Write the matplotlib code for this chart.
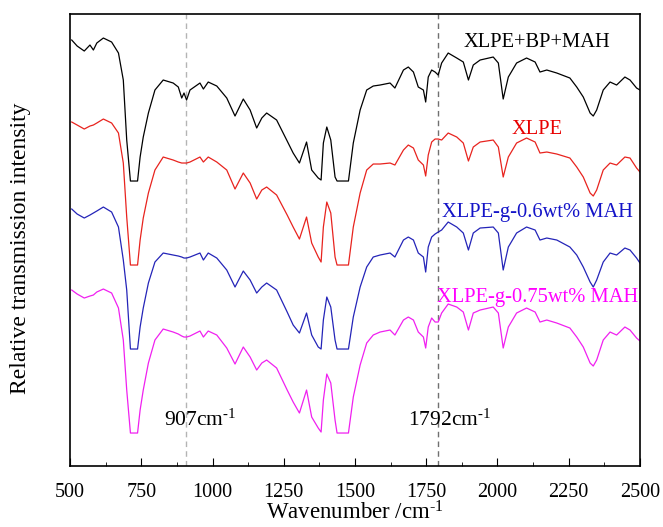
import matplotlib
matplotlib.use("Agg")
import matplotlib.pyplot as plt
import numpy as np

plt.rcParams['font.family'] = ['Liberation Serif', 'DejaVu Serif']
plt.rcParams['mathtext.fontset'] = 'custom'
plt.rcParams['mathtext.rm'] = 'Liberation Serif'
plt.rcParams['mathtext.default'] = 'rm'

# wavenumber grid (cm^-1)
wavenumber = [506, 525, 550, 570, 582, 594, 617, 646, 670, 687, 699, 712, 737, 746, 757,
              775, 798, 827, 862, 880, 892, 900, 909, 921, 956, 968, 985, 1015, 1050, 1079,
              1108, 1132, 1155, 1173, 1190, 1225, 1262, 1283, 1305, 1330, 1348, 1371, 1381,
              1389, 1401, 1415, 1430, 1437, 1477, 1494, 1518, 1541, 1564, 1588, 1623, 1640,
              1670, 1687, 1705, 1722, 1740, 1748, 1757, 1769, 1781, 1792, 1804, 1827, 1857,
              1880, 1898, 1915, 1939, 1985, 2003, 2020, 2038, 2067, 2102, 2132, 2149, 2173,
              2208, 2254, 2278, 2301, 2325, 2336, 2348, 2371, 2395, 2418, 2447, 2465, 2488, 2500]

# curve positions (offset units, larger = lower on the plot)
xlpe_bp_mah = [40, 46, 51, 45, 50, 43, 38, 42, 53, 80, 140, 181, 181, 157, 137,
               113, 90, 80, 83, 87, 98, 93, 100, 90, 83, 89, 82, 86, 98, 116,
               99, 110, 128, 118, 113, 120, 141, 153, 163, 142, 170, 178, 180,
               143, 127, 140, 177, 181, 181, 143, 110, 90, 86, 85, 83, 88,
               70, 67, 72, 87, 90, 102, 77, 70, 72, 75, 63, 53, 58,
               62, 80, 65, 60, 57, 63, 99, 77, 63, 58, 62, 72, 70,
               73, 78, 87, 97, 113, 116, 110, 90, 82, 85, 77, 80, 88, 90]
xlpe = [122, 125, 129, 126, 125, 123, 119, 123, 133, 163, 217, 265, 265, 240, 218,
        193, 170, 157, 160, 162, 163, 163, 163, 162, 157, 162, 157, 162, 170, 189,
        173, 183, 199, 190, 187, 195, 215, 227, 239, 217, 243, 257, 262,
        227, 202, 213, 257, 265, 265, 227, 193, 170, 164, 164, 163, 165,
        150, 145, 148, 160, 165, 176, 155, 142, 139, 139, 140, 133, 137,
        143, 161, 147, 142, 140, 147, 177, 157, 143, 138, 142, 153, 152,
        154, 158, 167, 177, 193, 196, 190, 170, 163, 165, 157, 158, 168, 172]
xlpe_g_06 = [209, 214, 218, 215, 213, 211, 207, 212, 227, 260, 290, 349, 349, 327, 308,
             283, 262, 253, 255, 256, 257, 258, 258, 257, 253, 260, 253, 258, 270, 287,
             271, 280, 293, 287, 283, 290, 312, 325, 333, 313, 335, 347, 349,
             320, 297, 307, 340, 349, 349, 317, 287, 267, 257, 255, 253, 257,
             240, 237, 240, 253, 257, 272, 247, 237, 234, 232, 230, 222, 227,
             233, 250, 233, 228, 227, 233, 270, 247, 233, 227, 230, 240, 238,
             240, 247, 255, 267, 282, 287, 280, 262, 253, 255, 248, 250, 258, 263]
xlpe_g_075 = [290, 294, 298, 296, 295, 292, 289, 293, 308, 340, 390, 433, 433, 410, 390,
              363, 340, 329, 332, 334, 336, 337, 337, 336, 331, 337, 331, 335, 348, 364,
              347, 357, 370, 363, 360, 368, 390, 402, 413, 390, 417, 428, 432,
              400, 374, 383, 420, 433, 433, 397, 365, 343, 335, 332, 330, 335,
              320, 317, 320, 332, 337, 348, 327, 318, 322, 322, 313, 304, 307,
              312, 330, 313, 310, 307, 313, 348, 327, 313, 308, 312, 322, 320,
              323, 328, 337, 347, 363, 366, 360, 340, 332, 335, 327, 330, 338, 341]

series = [xlpe_bp_mah, xlpe, xlpe_g_06, xlpe_g_075]
names = ['XLPE+BP+MAH', 'XLPE', 'XLPE-g-0.6wt% MAH', 'XLPE-g-0.75wt% MAH']
colors = ['#000000', '#e8231e', '#2424b8', '#f020f0']
text_colors = ['#000000', '#e80000', '#1414c8', '#ff00ff']
label_y = [42, 129, 212, 297]

fig = plt.figure(figsize=(6.63, 5.27), dpi=100)
ax = fig.add_axes([0.1056, 0.1157, 0.8597, 0.8577])

ax.axvline(907, color='#b4b4b4', linestyle=(0, (4, 3)), linewidth=1)
ax.axvline(1792, color='#707070', linestyle=(0, (4, 3)), linewidth=1)

for vals, c in zip(series, colors):
    ax.plot(wavenumber, vals, color=c, linewidth=0.9)

for name, c, y in zip(names, text_colors, label_y):
    ax.text(2140, y, name, color=c, fontsize=14.8, ha='center', va='center')

sup = r'$^{\text{-1}}$'
ax.text(956, 420, '907cm' + sup, fontsize=15.5, ha='center', va='center')
ax.text(1833, 420, '1792cm' + sup, fontsize=15.5, ha='center', va='center')

ax.set_xlim(500, 2500)
ax.set_ylim(466, 14)
ax.set_xticks(np.arange(500, 2501, 250))
ax.set_xticks(np.arange(625, 2500, 250), minor=True)
ax.set_yticks([])
ax.tick_params(axis='x', which='both', direction='in', labelsize=14.5, pad=12)
ax.tick_params(axis='x', which='major', length=5.5)
ax.tick_params(axis='x', which='minor', length=3)
for s in ax.spines.values():
    s.set_linewidth(1.2)

ax.set_xlabel('Wavenumber /cm' + sup, fontsize=16.5, labelpad=0)
ax.set_ylabel('Relative transmission intensity', fontsize=17)
ax.yaxis.set_label_coords(-0.068, 0.482)

fig.savefig('out.png', dpi=100)
